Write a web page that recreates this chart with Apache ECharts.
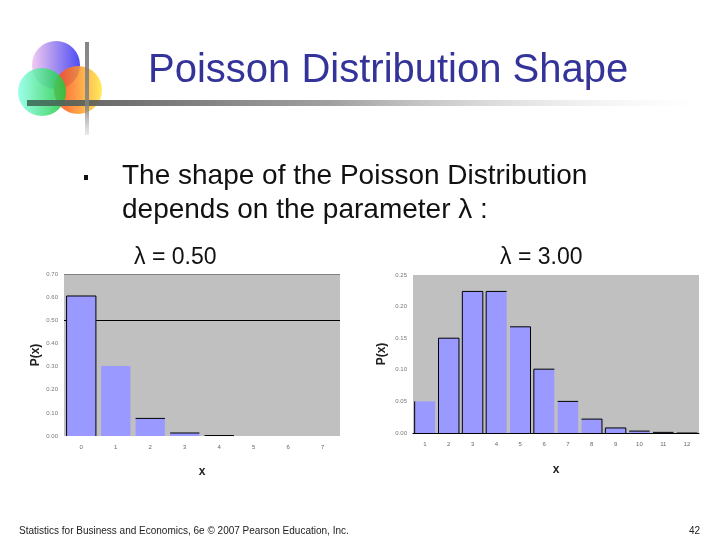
<!DOCTYPE html>
<html><head><meta charset="utf-8">
<style>html,body{margin:0;padding:0;background:#fff}#c{width:720px;height:540px}</style>
<script src="https://cdn.jsdelivr.net/npm/echarts@6/dist/echarts.min.js"></script>
</head><body><div id="c"></div>
<script>
const titleText = 'Poisson Distribution Shape';
const bodyLine1 = 'The shape of the Poisson Distribution';
const bodyLine2 = 'depends on the parameter λ :';
const leftLabel = 'λ = 0.50';
const rightLabel = 'λ = 3.00';
const footerText = 'Statistics for Business and Economics, 6e © 2007 Pearson Education, Inc.';
const pageNumber = '42';

const leftCategories = ['0','1','2','3','4','5','6','7'];
const leftValues = [0.605,0.303,0.076,0.013,0.002,0,0,0];
const leftEdges = ['lrt','','t','t','t','','',''];
const leftTicks = ['0.00','0.10','0.20','0.30','0.40','0.50','0.60','0.70'];

const rightCategories = ['1','2','3','4','5','6','7','8','9','10','11','12'];
const rightValues = [0.05,0.15,0.224,0.224,0.168,0.101,0.05,0.022,0.008,0.003,0.001,0];
const rightEdges = ['l','lrt','lrt','lt','rt','lt','t','rt','lrt','t','t','t'];
const rightTicks = ['0.00','0.05','0.10','0.15','0.20','0.25'];

const chart = echarts.init(document.getElementById('c'), null, {renderer:'canvas'});
const FONT = '"Liberation Sans", Arial, sans-serif';

function edgeRender(barFrac){
  return function(params, api){
    const i = api.value(0), v = api.value(1), e = api.value(2) + '';
    const base = api.coord([i, 0]), top = api.coord([i, v]);
    const w = api.size([1,0])[0] * barFrac, l = base[0]-w/2, r = base[0]+w/2;
    const children = [];
    const st = {stroke:'#000', lineWidth:1};
    if (e.includes('l')) children.push({type:'line',shape:{x1:l,y1:top[1],x2:l,y2:base[1]},style:st});
    if (e.includes('r')) children.push({type:'line',shape:{x1:r,y1:top[1],x2:r,y2:base[1]},style:st});
    if (e.includes('t')) children.push({type:'line',shape:{x1:l,y1:top[1],x2:r,y2:top[1]},style:st});
    return {type:'group',children};
  };
}
function xAxis(gridIndex, data, nameGap){
  return {type:'category',gridIndex,data,name:'x',nameLocation:'middle',nameGap,
    nameTextStyle:{fontFamily:FONT,fontSize:12,fontWeight:'bold',color:'#222'},
    axisLine:{show:gridIndex===1,lineStyle:{color:'#000',width:1}},axisTick:{show:false},
    axisLabel:{fontFamily:FONT,fontSize:6,color:'#666',margin:8},splitLine:{show:false}};
}
function yAxis(gridIndex, max, interval, ticks, nameGap){
  return {type:'value',gridIndex,min:0,max,interval,name:'P(x)',nameLocation:'middle',nameGap,
    nameTextStyle:{fontFamily:FONT,fontSize:12,fontWeight:'bold',color:'#222'},
    axisLine:{show:false},axisTick:{show:false},splitLine:{show:false},
    axisLabel:{fontFamily:FONT,fontSize:6,color:'#777',margin:6,
      formatter:(v)=>ticks[Math.round(v/interval)]}};
}
function txt(x,y,text,fontSize,fill,extra){
  return Object.assign({type:'text',x,y,silent:true,
    style:Object.assign({text,fontFamily:FONT,fontSize,fill,textVerticalAlign:'middle'},extra||{})});
}
function grad(c0,c1){return new echarts.graphic.LinearGradient(0,0,1,0,[{offset:0,color:c0},{offset:1,color:c1}]);}

chart.setOption({
  animation:false,
  backgroundColor:'#fff',
  grid:[
    {left:64,top:274,width:276,height:162,backgroundColor:'#c0c0c0',show:true,borderWidth:0},
    {left:413,top:275,width:286,height:158,backgroundColor:'#c0c0c0',show:true,borderWidth:0}
  ],
  xAxis:[xAxis(0,leftCategories,30),xAxis(1,rightCategories,31)],
  yAxis:[yAxis(0,0.7,0.1,leftTicks,22),yAxis(1,0.25,0.05,rightTicks,25)],
  series:[
    {type:'bar',xAxisIndex:0,yAxisIndex:0,data:leftValues,barCategoryGap:'15%',z:3,
      itemStyle:{color:'#9999ff'},
      markLine:{silent:true,symbol:'none',z:1,label:{show:false},lineStyle:{color:'#000',width:1,type:'solid'},
        data:[{yAxis:0.5},{yAxis:0.7,lineStyle:{color:'#808080'}}]}},
    {type:'custom',xAxisIndex:0,yAxisIndex:0,z:4,renderItem:edgeRender(0.85),
      encode:{x:0,y:1},data:leftValues.map((v,i)=>[i,v,leftEdges[i]])},
    {type:'bar',xAxisIndex:1,yAxisIndex:1,data:rightValues,barCategoryGap:'14%',z:3,
      itemStyle:{color:'#9999ff'}},
    {type:'custom',xAxisIndex:1,yAxisIndex:1,z:4,renderItem:edgeRender(0.86),
      encode:{x:0,y:1},data:rightValues.map((v,i)=>[i,v,rightEdges[i]])}
  ],
  graphic:{elements:[
    {type:'circle',z:1,silent:true,shape:{cx:56,cy:65,r:24},style:{fill:grad('#f0c4f0','#3a3af0'),opacity:.9}},
    {type:'circle',z:2,silent:true,shape:{cx:78,cy:90,r:24},style:{fill:grad('#ff3a10','#ffe840'),opacity:.85}},
    {type:'circle',z:3,silent:true,shape:{cx:42,cy:92,r:24},style:{fill:grad('#8cffe8','#18c838'),opacity:.85}},
    {type:'rect',z:4,silent:true,shape:{x:27,y:100,width:675,height:6},
      style:{fill:new echarts.graphic.LinearGradient(0,0,1,0,[
        {offset:0,color:'rgba(60,110,90,.9)'},{offset:.1,color:'rgba(90,90,90,.9)'},
        {offset:.45,color:'rgba(150,150,150,.9)'},{offset:1,color:'rgba(255,255,255,.2)'}])}},
    {type:'rect',z:5,silent:true,shape:{x:85,y:42,width:4,height:93},
      style:{fill:new echarts.graphic.LinearGradient(0,0,0,1,[
        {offset:0,color:'rgba(120,120,120,.9)'},{offset:.7,color:'rgba(130,130,130,.85)'},
        {offset:1,color:'rgba(220,220,220,.6)'}])}},
    txt(148,71,titleText,40,'#333399'),
    {type:'rect',silent:true,shape:{x:84,y:175,width:4,height:5},style:{fill:'#111'}},
    txt(122,176,bodyLine1,28,'#111'),
    txt(122,210,bodyLine2,28,'#111'),
    txt(134,258,leftLabel,23,'#111'),
    txt(500,258,rightLabel,23,'#111'),
    txt(19,531,footerText,10,'#222'),
    txt(689,531,pageNumber,10,'#222')
  ]}
});
</script></body></html>
